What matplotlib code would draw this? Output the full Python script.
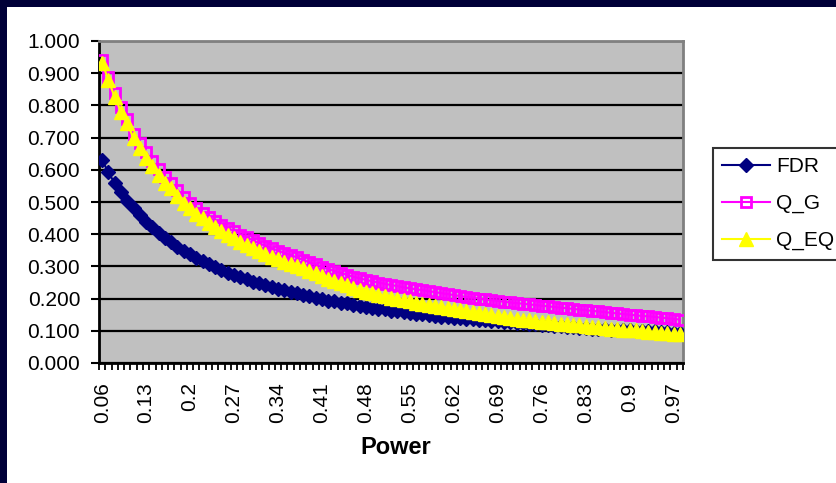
import numpy as np
import matplotlib.pyplot as plt
from matplotlib.patches import Rectangle

plt.rcParams['font.family'] = ['Liberation Sans', 'DejaVu Sans']

# power levels 0.06 .. 0.98 (one category per step)
power = ['%g' % (k / 100) for k in range(6, 99)]

fdr = [0.630, 0.592, 0.558, 0.531, 0.504, 0.481, 0.460, 0.438, 0.421, 0.404,
       0.388, 0.375, 0.361, 0.349, 0.338, 0.327, 0.316, 0.307, 0.297, 0.290,
       0.281, 0.274, 0.266, 0.260, 0.253, 0.248, 0.241, 0.236, 0.230, 0.226,
       0.220, 0.216, 0.211, 0.207, 0.202, 0.199, 0.194, 0.192, 0.187, 0.185,
       0.180, 0.178, 0.174, 0.172, 0.168, 0.167, 0.163, 0.161, 0.158, 0.156,
       0.153, 0.152, 0.149, 0.147, 0.144, 0.143, 0.140, 0.139, 0.136, 0.136,
       0.133, 0.132, 0.129, 0.129, 0.126, 0.126, 0.123, 0.123, 0.120, 0.120,
       0.117, 0.117, 0.115, 0.114, 0.112, 0.112, 0.109, 0.109, 0.107, 0.106,
       0.105, 0.104, 0.103, 0.102, 0.102, 0.100, 0.100, 0.098, 0.098, 0.096,
       0.096, 0.094, 0.094]

q_g = [0.940, 0.887, 0.837, 0.795, 0.757, 0.712, 0.682, 0.655, 0.627, 0.601,
       0.578, 0.558, 0.538, 0.516, 0.498, 0.482, 0.467, 0.453, 0.441, 0.430,
       0.419, 0.409, 0.399, 0.390, 0.381, 0.372, 0.364, 0.356, 0.349, 0.342,
       0.335, 0.328, 0.320, 0.313, 0.306, 0.299, 0.292, 0.286, 0.280, 0.274,
       0.268, 0.263, 0.258, 0.254, 0.250, 0.246, 0.242, 0.239, 0.235, 0.232,
       0.229, 0.226, 0.223, 0.220, 0.217, 0.214, 0.211, 0.208, 0.205, 0.203,
       0.200, 0.198, 0.195, 0.193, 0.190, 0.188, 0.186, 0.184, 0.182, 0.180,
       0.178, 0.176, 0.174, 0.172, 0.170, 0.168, 0.166, 0.164, 0.162, 0.160,
       0.158, 0.156, 0.154, 0.152, 0.150, 0.148, 0.146, 0.145, 0.143, 0.141,
       0.139, 0.137, 0.135]

q_eq = [0.933, 0.878, 0.826, 0.781, 0.744, 0.698, 0.669, 0.636, 0.612, 0.584,
        0.560, 0.542, 0.518, 0.497, 0.480, 0.464, 0.449, 0.435, 0.422, 0.410,
        0.398, 0.387, 0.376, 0.366, 0.356, 0.347, 0.338, 0.330, 0.322, 0.314,
        0.307, 0.300, 0.294, 0.286, 0.278, 0.270, 0.262, 0.255, 0.248, 0.241,
        0.234, 0.228, 0.222, 0.217, 0.212, 0.207, 0.203, 0.199, 0.195, 0.191,
        0.187, 0.184, 0.180, 0.177, 0.174, 0.171, 0.167, 0.164, 0.160, 0.157,
        0.154, 0.151, 0.148, 0.145, 0.142, 0.140, 0.137, 0.135, 0.133, 0.131,
        0.128, 0.126, 0.124, 0.122, 0.120, 0.118, 0.117, 0.115, 0.113, 0.111,
        0.109, 0.107, 0.106, 0.104, 0.102, 0.101, 0.099, 0.097, 0.096, 0.094,
        0.092, 0.091, 0.089]

W, H = 836, 483
fig = plt.figure(figsize=(W / 100, H / 100), dpi=100, facecolor='#000038')
fig.patches.append(Rectangle((7 / W, 0), 1, 1 - 7 / H, transform=fig.transFigure,
                             facecolor='white', edgecolor='none', zorder=-10))

ax = fig.add_axes([99 / W, 1 - 363 / H, (683 - 99) / W, (363 - 41) / H])
ax.set_facecolor('#C0C0C0')

x = np.arange(len(power))
ax.plot(x, fdr, color='#000080', lw=1.5, marker='D', ms=7.5, mec='#000080',
        mfc='#000080', label='FDR', zorder=3)
ax.plot(x, q_g, color='#FF00FF', lw=1.5, marker='s', ms=7.5, mec='#FF00FF',
        mfc='none', mew=2, label='Q_G', zorder=4)
ax.plot(x, q_eq, color='#FFFF00', lw=1.5, marker='^', ms=10, mec='#FFFF00',
        mfc='#FFFF00', label='Q_EQ', zorder=5)

ax.set_xlim(-0.5, len(power) - 0.5)
ax.set_ylim(0, 1)

ax.set_yticks(np.arange(0, 1.01, 0.1))
ax.set_yticklabels(['%.3f' % v for v in np.arange(0, 1.01, 0.1)])
ax.yaxis.grid(True, color='black', lw=1.6)
ax.set_axisbelow(True)
ax.tick_params(axis='y', direction='out', length=6, width=1.5, pad=7.5,
               labelsize=15)

# tick marks between categories, labels every 7th category
ax.set_xticks(np.arange(len(power) + 1) - 0.5)
ax.set_xticklabels([])
ax.tick_params(axis='x', which='major', direction='out', length=5, width=1.3)
lab_pos = x[::7]
ax.set_xticks(lab_pos, minor=True)
ax.set_xticklabels([power[i] for i in lab_pos], minor=True, rotation=90)
ax.tick_params(axis='x', which='minor', length=0, pad=14, labelsize=15)

for s in ['left', 'bottom']:
    ax.spines[s].set_color('black')
    ax.spines[s].set_linewidth(2)
for s in ['top', 'right']:
    ax.spines[s].set_color('#808080')
    ax.spines[s].set_linewidth(2)

fig.text(396 / W, 1 - 448 / H, 'Power', ha='center', va='center',
         fontsize=17, fontweight='bold')

leg = fig.legend(loc='upper left', bbox_to_anchor=(712.5 / W, 1 - 148 / H),
                 bbox_transform=fig.transFigure, borderaxespad=0, fontsize=15,
                 frameon=True, fancybox=False, handlelength=2.3,
                 handletextpad=0.3, labelspacing=0.85, borderpad=0.45)
leg.get_frame().set_edgecolor('black')
leg.get_frame().set_linewidth(1.5)
leg.get_frame().set_facecolor('white')

fig.savefig('out.png', dpi=100, facecolor=fig.get_facecolor())
